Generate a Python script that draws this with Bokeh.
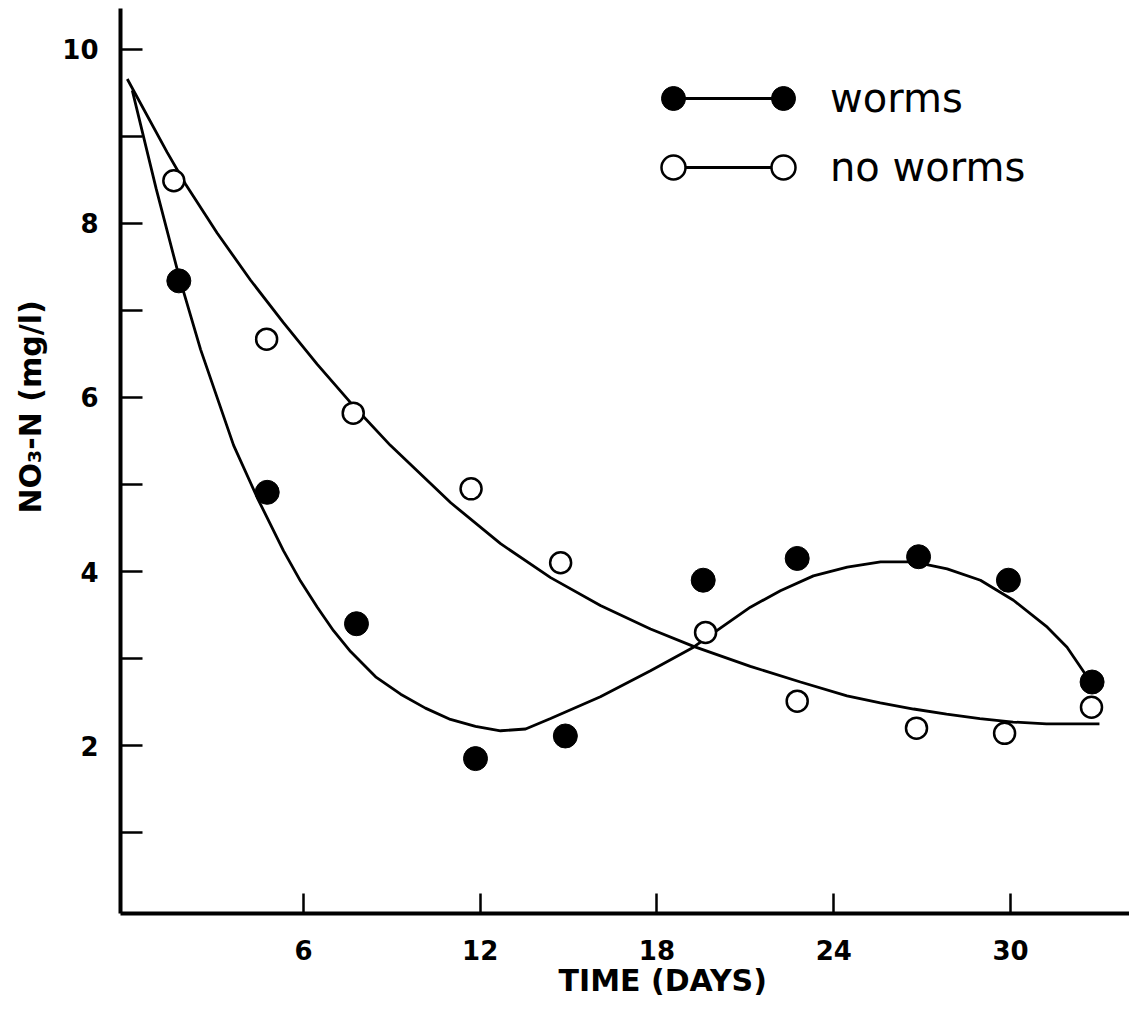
from bokeh.plotting import figure
from bokeh.models import Range1d, FixedTicker, Legend, LegendItem, Title
from bokeh.embed import file_html
from bokeh.resources import INLINE

# Measured points (days, NO3-N mg/l)
worms_day = [1.77, 4.77, 7.80, 11.84, 14.89, 19.57, 22.76, 26.88, 29.93, 32.77]
worms_no3 = [7.34, 4.91, 3.40, 1.85, 2.11, 3.90, 4.15, 4.17, 3.90, 2.73]
noworms_day = [1.60, 4.75, 7.69, 11.69, 14.73, 19.65, 22.76, 26.81, 29.80, 32.75]
noworms_no3 = [8.49, 6.67, 5.82, 4.95, 4.10, 3.30, 2.51, 2.20, 2.14, 2.44]

# Fitted curves
worms_fit_day = [0.19, 1.00, 1.77, 2.51, 3.63, 4.43, 5.32, 5.90, 6.47, 7.02, 7.60, 8.45,
                 9.30, 10.14, 10.99, 11.84, 12.69, 13.54, 14.39, 16.08, 17.78, 19.24,
                 20.20, 21.17, 22.19, 23.31, 24.46, 25.59, 26.71, 27.85, 28.98, 30.10,
                 31.25, 31.92, 32.60, 32.77]
worms_fit_no3 = [9.53, 8.40, 7.40, 6.55, 5.45, 4.85, 4.24, 3.89, 3.59, 3.32, 3.08, 2.79,
                 2.59, 2.43, 2.30, 2.22, 2.17, 2.19, 2.31, 2.56, 2.86, 3.13,
                 3.36, 3.59, 3.78, 3.95, 4.05, 4.11, 4.11, 4.03, 3.90, 3.67,
                 3.36, 3.13, 2.79, 2.71]
noworms_fit_day = [0.02, 1.37, 2.00, 3.07, 4.20, 5.32, 6.47, 7.60, 8.95, 11.0, 12.69,
                   14.39, 16.08, 17.78, 19.24, 21.17, 22.87, 24.45, 25.58, 26.71, 27.83,
                   28.96, 30.09, 31.22, 33.02]
noworms_fit_no3 = [9.66, 8.82, 8.45, 7.89, 7.35, 6.86, 6.38, 5.94, 5.45, 4.79, 4.32,
                   3.93, 3.61, 3.34, 3.14, 2.91, 2.73, 2.57, 2.49, 2.42, 2.36,
                   2.31, 2.27, 2.25, 2.25]

x_ticks = [6, 12, 18, 24, 30]
y_ticks = [1, 2, 3, 4, 5, 6, 7, 8, 9, 10]
y_tick_labels = {1: "", 2: "2", 3: "", 4: "4", 5: "", 6: "6", 7: "", 8: "8", 9: "", 10: "10"}

FONT = "DejaVu Sans"

p = figure(frame_width=1009, frame_height=905, output_backend="svg", toolbar_location=None,
           x_range=Range1d(-0.21, 34.04), y_range=Range1d(0.07, 10.47),
           min_border_left=120, min_border_right=0, min_border_top=8, min_border_bottom=90,
           background_fill_color="white", border_fill_color="white")
p.outline_line_color = None
p.grid.grid_line_color = None

for ax in (p.xaxis[0], p.yaxis[0]):
    ax.axis_line_width = 4
    ax.axis_line_color = "black"
    ax.major_tick_line_width = 2.5
    ax.major_tick_line_color = "black"
    ax.major_tick_out = 0
    ax.minor_tick_line_color = None
    ax.major_label_text_font = FONT
    ax.major_label_text_font_style = "bold"
    ax.major_label_text_font_size = "26px"
    ax.major_label_text_color = "black"

p.xaxis.ticker = FixedTicker(ticks=x_ticks)
p.xaxis.major_tick_in = 20
p.xaxis.major_label_standoff = 26

p.yaxis.ticker = FixedTicker(ticks=y_ticks)
p.yaxis.major_label_overrides = y_tick_labels
p.yaxis.major_tick_in = 22
p.yaxis.major_label_standoff = 22

xtitle = Title(text="TIME (DAYS)", align="left", offset=438, vertical_align="top",
               standoff=0, text_font=FONT, text_font_style="bold",
               text_font_size="30px", text_color="black")
p.add_layout(xtitle, "below")

ytitle = Title(text="NO₃-N (mg/l)", align="left", offset=400, vertical_align="top",
               standoff=20, text_font=FONT, text_font_style="bold",
               text_font_size="30px", text_color="black")
p.add_layout(ytitle, "left")

lw = p.line(worms_fit_day, worms_fit_no3, line_color="black", line_width=2.8)
ln = p.line(noworms_fit_day, noworms_fit_no3, line_color="black", line_width=2.8)
sw = p.scatter(worms_day, worms_no3, size=24, fill_color="black", line_color="black")
sn = p.scatter(noworms_day, noworms_no3, size=21, fill_color="white", line_color="black",
               line_width=2.5)

common = dict(glyph_height=60, label_height=60, spacing=9, padding=0, margin=0,
              border_line_color=None, background_fill_alpha=0,
              label_text_font=FONT, label_text_font_size="40px",
              label_text_color="black", label_text_baseline="middle")

# legend key: line segment, then a marker at each end, then the labels
key_line = Legend(items=[LegendItem(label="", renderers=[lw]),
                         LegendItem(label="", renderers=[ln])],
                  location=(553, 716), glyph_width=110, label_standoff=0, label_width=0,
                  **common)
key_left = Legend(items=[LegendItem(label="", renderers=[sw]),
                         LegendItem(label="", renderers=[sn])],
                  location=(523, 716), glyph_width=60, label_standoff=0, label_width=0,
                  **common)
key_right = Legend(items=[LegendItem(label="worms", renderers=[sw]),
                          LegendItem(label="no worms", renderers=[sn])],
                   location=(633, 716), glyph_width=60, label_standoff=17,
                   **common)
p.add_layout(key_line)
p.add_layout(key_left)
p.add_layout(key_right)

open("out.html", "w").write(file_html(p, INLINE))
